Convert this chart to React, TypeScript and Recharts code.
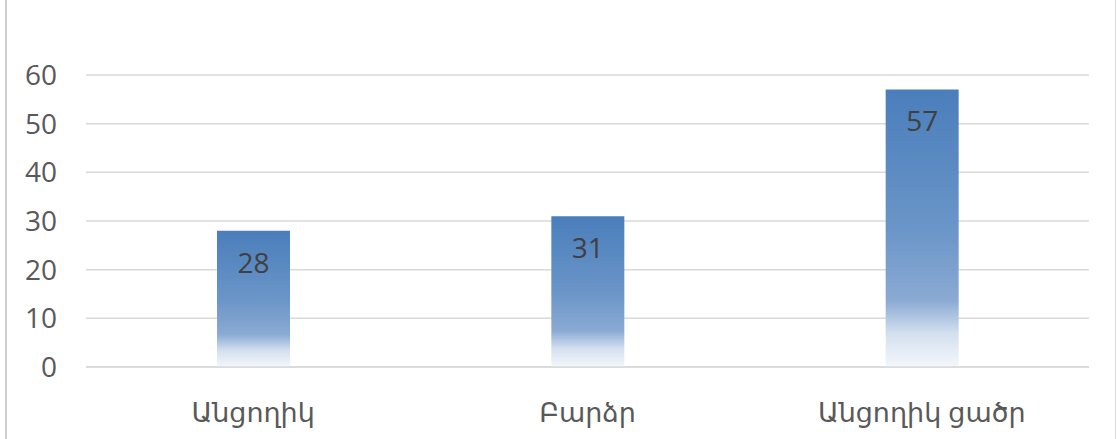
import { FC } from "react";
import {
    BarChart,
    Bar,
    CartesianGrid,
    XAxis,
    YAxis,
    LabelList,
} from "recharts";

const categories = ["Անցողիկ", "Բարձր", "Անցողիկ ցածր"];
const values = [28, 31, 57];
const yTicks = [0, 10, 20, 30, 40, 50, 60];

const data = categories.map((name, i) => ({ name, value: values[i] }));

const FONT = "'Open Sans', 'Noto Sans', 'DejaVu Sans', sans-serif";
const TEXT_COLOR = "#595959";
const GRID_COLOR = "#d9d9d9";

const App: FC = () => {
    return (
        <div
            style={{
                position: "absolute",
                left: 0,
                top: 0,
                width: 1117,
                height: 439,
                overflow: "hidden",
                background: "#fff",
                fontFamily: FONT,
            }}
        >
            {/* chart area frame, only its left and right edges fall inside the picture */}
            <div
                style={{
                    position: "absolute",
                    left: 5,
                    top: -10,
                    width: 1111,
                    height: 460,
                    boxSizing: "border-box",
                    borderLeft: "2px solid #cfcfcf",
                    borderRight: "1px solid #d9d9d9",
                }}
            />
            <div style={{ position: "absolute", left: 0, top: 0 }}>
                <BarChart
                    width={1117}
                    height={439}
                    data={data}
                    margin={{ top: 75, right: 28, bottom: 0, left: 0 }}
                >
                    <defs>
                        <linearGradient id="barFill" x1="0" y1="0" x2="0" y2="1">
                            <stop offset="0%" stopColor="#4a7ebb" />
                            <stop offset="50%" stopColor="#6a95c8" />
                            <stop offset="76%" stopColor="#8aaad3" />
                            <stop offset="88%" stopColor="#d4e0ef" />
                            <stop offset="100%" stopColor="#f4f7fc" />
                        </linearGradient>
                    </defs>
                    <CartesianGrid
                        vertical={false}
                        stroke={GRID_COLOR}
                        strokeWidth={1.5}
                    />
                    <XAxis
                        dataKey="name"
                        height={72}
                        tickLine={false}
                        axisLine={{ stroke: GRID_COLOR, strokeWidth: 1.5 }}
                        tickSize={0}
                        tickMargin={36}
                        tick={{ fill: TEXT_COLOR, fontSize: 27, fontFamily: FONT }}
                    />
                    <YAxis
                        width={86}
                        domain={[0, 60]}
                        ticks={yTicks}
                        axisLine={false}
                        tickLine={false}
                        tickSize={0}
                        tickMargin={29}
                        tick={{ fill: TEXT_COLOR, fontSize: 28, fontFamily: FONT }}
                    />
                    <Bar
                        dataKey="value"
                        fill="url(#barFill)"
                        barSize={73}
                        isAnimationActive={false}
                    >
                        <LabelList
                            dataKey="value"
                            position="insideTop"
                            offset={22}
                            fill="#404040"
                            fontSize={28}
                            fontFamily={FONT}
                        />
                    </Bar>
                </BarChart>
            </div>
        </div>
    );
};

export default App;
